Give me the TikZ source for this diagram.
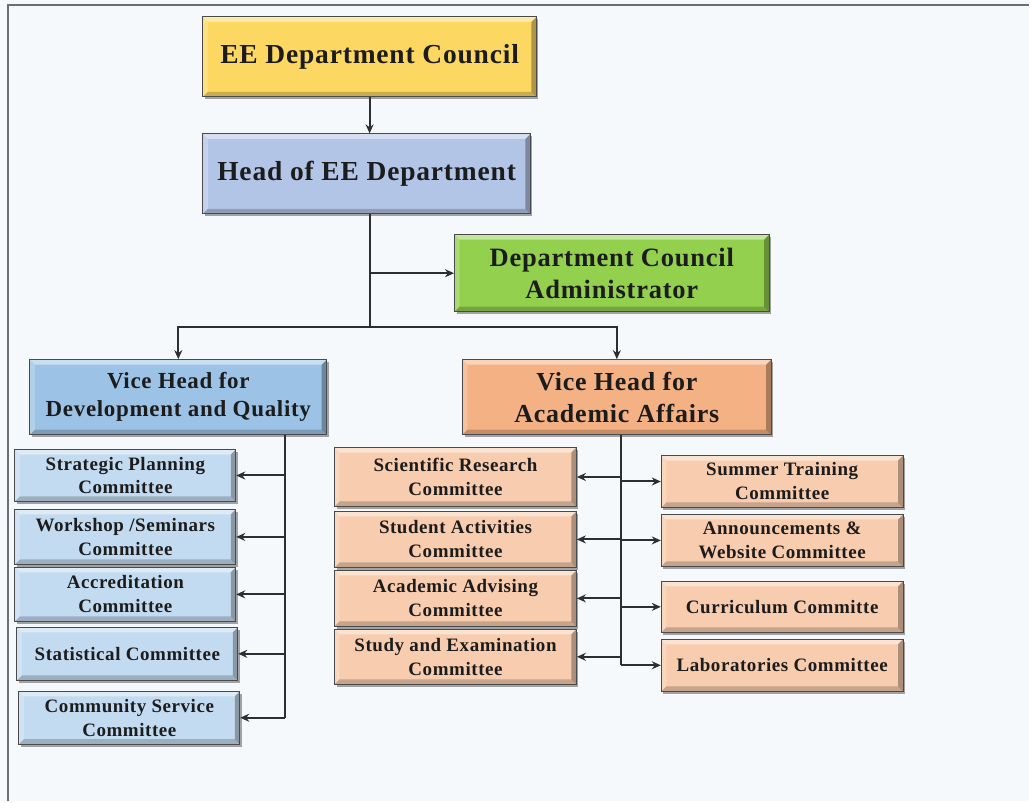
\documentclass[tikz,border=0pt]{standalone}
\usepackage{fontspec}
\setmainfont{Liberation Serif}[LetterSpace=3]
\usetikzlibrary{arrows.meta,calc,shadows}
\definecolor{bgc}{HTML}{F6F9FC}
\definecolor{framec}{HTML}{6E6E6E}
\definecolor{edgec}{HTML}{4A4A4A}
\definecolor{txtc}{HTML}{1C1C1C}
\definecolor{linec}{HTML}{2E2E2E}
\definecolor{cyellow}{HTML}{FCD862}
\definecolor{chead}{HTML}{B3C5E6}
\definecolor{cgreen}{HTML}{93D04E}
\definecolor{cvdev}{HTML}{9CC3E6}
\definecolor{cvacad}{HTML}{F4B183}
\definecolor{cblue}{HTML}{C3DBF0}
\definecolor{corange}{HTML}{F8CCAE}
\tikzset{
  box/.style={draw=edgec, line width=1pt, align=center, inner sep=0pt, text=txtc,
    drop shadow={shadow xshift=2pt, shadow yshift=-2.5pt, fill=black, opacity=.35},
    path picture={
      \coordinate (bsw) at (path picture bounding box.south west);
      \coordinate (bne) at (path picture bounding box.north east);
      \coordinate (bnw) at (bsw|-bne);
      \coordinate (bse) at (bne|-bsw);
      \fill[white,opacity=.45] (bnw) -- (bne) -- ($(bne)+(-5pt,-5pt)$) -- ($(bnw)+(5pt,-5pt)$) -- cycle;
      \fill[white,opacity=.22] (bnw) -- ($(bnw)+(5pt,-5pt)$) -- ($(bsw)+(5pt,5pt)$) -- (bsw) -- cycle;
      \fill[black,opacity=.2] (bsw) -- (bse) -- ($(bse)+(-5pt,5pt)$) -- ($(bsw)+(5pt,5pt)$) -- cycle;
      \fill[black,opacity=.3] (bse) -- (bne) -- ($(bne)+(-5pt,-5pt)$) -- ($(bse)+(-5pt,5pt)$) -- cycle;
    }},
  bigbox/.style={box, font=\fontsize{27.5}{31}\selectfont\bfseries},
  vicebox/.style={box, font=\fontsize{23}{28}\selectfont\bfseries},
  combox/.style={box, font=\fontsize{19}{24}\selectfont\bfseries},
  conn/.style={draw=linec, line width=2pt},
  arr/.style={conn, -{Stealth[length=9pt,width=8pt]}}
}
\begin{document}
\begin{tikzpicture}[x=1pt,y=-1pt]
\fill[bgc] (0,0) rectangle (1030,802);
\draw[framec,line width=2.2pt] (8,802) -- (8,5) -- (1030,5);

\node[bigbox, fill=cyellow, minimum width=334pt, minimum height=80pt] (council) at (370,57) {EE Department Council};
\node[bigbox, fill=chead, minimum width=328pt, minimum height=80pt] (head) at (367,174) {Head of EE Department};
\node[box, font=\fontsize{26.5}{32}\selectfont\bfseries, fill=cgreen, minimum width=315pt, minimum height=77pt] (admin) at (612.5,273.5) {Department Council\\Administrator};
\node[vicebox, fill=cvdev, minimum width=297pt, minimum height=75pt] (vdev) at (178.5,397.5) {Vice Head for\\Development and Quality};
\node[box, font=\fontsize{26}{32}\selectfont\bfseries, fill=cvacad, minimum width=309pt, minimum height=75pt] (vacad) at (617.5,397.5) {Vice Head for\\Academic Affairs};

\node[combox, fill=cblue, minimum width=221pt, minimum height=52pt] (l1) at (125.5,476) {Strategic Planning\\Committee};
\node[combox, fill=cblue, minimum width=221pt, minimum height=55pt] (l2) at (125.5,537.5) {Workshop /Seminars\\Committee};
\node[combox, fill=cblue, minimum width=221pt, minimum height=54pt] (l3) at (125.5,595) {Accreditation\\Committee};
\node[combox, fill=cblue, minimum width=221pt, minimum height=53pt] (l4) at (127.5,654.5) {Statistical Committee};
\node[combox, fill=cblue, minimum width=221pt, minimum height=53pt] (l5) at (129.5,718.5) {Community Service\\Committee};

\node[combox, fill=corange, minimum width=242pt, minimum height=59pt] (m1) at (456,477.5) {Scientific Research\\Committee};
\node[combox, fill=corange, minimum width=242pt, minimum height=56pt] (m2) at (456,540) {Student Activities\\Committee};
\node[combox, fill=corange, minimum width=242pt, minimum height=56pt] (m3) at (456,599) {Academic Advising\\Committee};
\node[combox, fill=corange, minimum width=242pt, minimum height=55pt] (m4) at (456,657.5) {Study and Examination\\Committee};

\node[combox, fill=corange, minimum width=242pt, minimum height=52pt] (r1) at (783,482) {Summer Training\\Committee};
\node[combox, fill=corange, minimum width=242pt, minimum height=52pt] (r2) at (783,541) {Announcements \&\\Website Committee};
\node[combox, fill=corange, minimum width=242pt, minimum height=51pt] (r3) at (783,607.5) {Curriculum Committe};
\node[combox, fill=corange, minimum width=242pt, minimum height=52pt] (r4) at (783,666) {Laboratories Committee};

% connectors
\draw[arr] (council.south) -- (council.south |- head.north);
\coordinate (hb) at (370,214);
\coordinate (j) at (370,327);
\draw[conn] (hb) -- (j);
\draw[arr] (hb |- admin.west) -- (admin.west);
\draw[arr] (j) -| (vdev.north);
\draw[arr] (j) -| (vacad.north);

\coordinate (lt) at (285,435);
\draw[conn] (lt) -- (lt |- l5.east);
\foreach \n in {l1,l2,l3,l4,l5} {\draw[arr] (lt |- \n.east) -- (\n.east);}

\coordinate (rt) at (622,435);
\draw[conn] (rt) -- (rt |- r4.west);
\foreach \n in {m1,m2,m3,m4} {\draw[arr] (rt |- \n.east) -- (\n.east);}
\foreach \n in {r1,r2,r3,r4} {\draw[arr] (rt |- \n.west) -- (\n.west);}
\end{tikzpicture}
\end{document}
